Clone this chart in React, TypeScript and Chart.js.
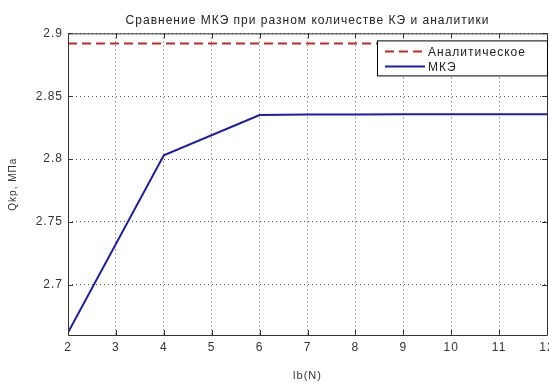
import React, { useEffect, useRef } from "react";
import { Chart, registerables } from "chart.js";

Chart.register(...registerables);

const titleText = "Сравнение МКЭ при разном количестве КЭ и аналитики";
const xLabel = "lb(N)";
const yLabel = "Qkp, МПа";

const femLabel = "МКЭ";
const femX = [2, 4, 6, 7, 8, 9, 10, 11, 12];
const femY = [2.662, 2.803, 2.835, 2.8355, 2.8355, 2.8356, 2.8356, 2.8356, 2.8356];

const analyticLabel = "Аналитическое";
const analyticX = [2, 12];
const analyticY = [2.892, 2.892];

const xTicks = [2, 3, 4, 5, 6, 7, 8, 9, 10, 11, 12];
const yTicks = [2.7, 2.75, 2.8, 2.85, 2.9];

const FONT = "'Liberation Sans', Arial, sans-serif";

const spacingPlugin = {
  id: "spacing",
  beforeInit(chart: any) {
    chart.ctx.letterSpacing = "1px";
  },
  beforeUpdate(chart: any) {
    chart.ctx.letterSpacing = "1px";
  },
  beforeDraw(chart: any) {
    chart.ctx.letterSpacing = "1px";
  },
};

const framePlugin = {
  id: "frame",
  afterDatasetsDraw(chart: any) {
    const { ctx, chartArea: a, scales } = chart;
    ctx.save();
    ctx.strokeStyle = "#333";
    ctx.lineWidth = 1;
    ctx.setLineDash([]);
    ctx.beginPath();
    ctx.rect(a.left + 0.5, a.top + 0.5, a.right - a.left, a.bottom - a.top);
    ctx.stroke();
    ctx.beginPath();
    for (const v of xTicks) {
      const x = Math.round(scales.x.getPixelForValue(v)) + 0.5;
      ctx.moveTo(x, a.bottom);
      ctx.lineTo(x, a.bottom - 5);
      ctx.moveTo(x, a.top);
      ctx.lineTo(x, a.top + 5);
    }
    for (const v of yTicks) {
      const y = Math.round(scales.y.getPixelForValue(v)) + 0.5;
      ctx.moveTo(a.left, y);
      ctx.lineTo(a.left + 5, y);
      ctx.moveTo(a.right, y);
      ctx.lineTo(a.right - 5, y);
    }
    ctx.stroke();

    // legend box
    const w = 170;
    const h = 35;
    const lx = a.right - w;
    const ly = a.top + 7;
    ctx.fillStyle = "#fff";
    ctx.fillRect(lx, ly, w, h);
    ctx.strokeStyle = "#000";
    ctx.strokeRect(lx + 0.5, ly + 0.5, w, h);
    const ds = chart.data.datasets;
    ds.forEach((d: any, i: number) => {
      const yy = ly + 11 + i * 15;
      ctx.strokeStyle = d.borderColor;
      ctx.lineWidth = d.borderWidth;
      ctx.setLineDash(d.borderDash || []);
      ctx.beginPath();
      ctx.moveTo(lx + 8, yy);
      ctx.lineTo(lx + 48, yy);
      ctx.stroke();
      ctx.setLineDash([]);
      ctx.fillStyle = "#222";
      ctx.font = `12px ${FONT}`;
      ctx.letterSpacing = "1px";
      ctx.textBaseline = "middle";
      ctx.textAlign = "left";
      ctx.fillText(d.label, lx + 51, yy + 1);
    });
    ctx.restore();
  },
};

export default function App() {
  const ref = useRef<HTMLCanvasElement | null>(null);

  useEffect(() => {
    document.body.style.margin = "0";
    const canvas = ref.current!;
    const chart = new Chart(canvas, {
      type: "line",
      data: {
        datasets: [
          {
            label: analyticLabel,
            data: analyticX.map((x, i) => ({ x, y: analyticY[i] })),
            borderColor: "#c92626",
            borderWidth: 2,
            borderDash: [9, 5],
            pointRadius: 0,
            fill: false,
          },
          {
            label: femLabel,
            data: femX.map((x, i) => ({ x, y: femY[i] })),
            borderColor: "#1c1cb0",
            borderWidth: 2,
            pointRadius: 0,
            fill: false,
            tension: 0,
          },
        ],
      },
      options: {
        animation: false,
        responsive: false,
        maintainAspectRatio: false,
        layout: { padding: { left: 0, right: 2, top: 0, bottom: 0 } },
        plugins: {
          legend: { display: false },
          tooltip: { enabled: false },
          title: {
            display: true,
            text: titleText,
            fullSize: false,
            color: "#222",
            font: { family: FONT, size: 12, weight: "normal" },
            padding: { top: 13, bottom: 6 },
          },
        },
        scales: {
          x: {
            type: "linear",
            min: 2,
            max: 12,
            afterBuildTicks: (s: any) => {
              s.ticks = xTicks.map((v) => ({ value: v }));
            },
            afterFit: (s: any) => {
              s.height = 48;
              s.paddingLeft = 0;
              s.paddingRight = 0;
            },
            grid: { color: "#555", lineWidth: 1, drawTicks: false },
            border: { display: false, dash: [1, 3] },
            ticks: {
              color: "#333",
              font: { family: FONT, size: 12 },
              padding: 5,
              maxRotation: 0,
              autoSkip: false,
            },
            title: {
              display: true,
              text: xLabel,
              color: "#333",
              font: { family: FONT, size: 11 },
              padding: { top: 0, bottom: 0 },
            },
          },
          y: {
            type: "linear",
            min: 2.66,
            max: 2.9,
            afterBuildTicks: (s: any) => {
              s.ticks = yTicks.map((v) => ({ value: v }));
            },
            afterFit: (s: any) => {
              s.width = 68;
              s.paddingTop = 0;
              s.paddingBottom = 0;
            },
            grid: { color: "#555", lineWidth: 1, drawTicks: false },
            border: { display: false, dash: [1, 3] },
            ticks: {
              color: "#333",
              font: { family: FONT, size: 12 },
              padding: 5,
              callback: (v: any) => String(Number(v)),
            },
            title: {
              display: true,
              text: yLabel,
              color: "#333",
              font: { family: FONT, size: 10 },
              padding: { top: 7, bottom: 4 },
            },
          },
        },
      },
      plugins: [spacingPlugin, framePlugin],
    });
    return () => chart.destroy();
  }, []);

  return (
    <div style={{ position: "fixed", left: 0, top: 0, width: 549, height: 383, background: "#fff" }}>
      <canvas ref={ref} width={549} height={383} style={{ width: 549, height: 383 }} />
    </div>
  );
}
